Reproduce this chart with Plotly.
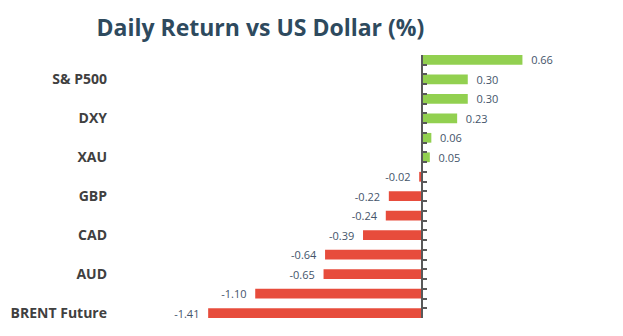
import plotly.graph_objects as go

# ---- data ----
values = [0.66, 0.30, 0.30, 0.23, 0.06, 0.05, -0.02, -0.22, -0.24, -0.39, -0.64, -0.65, -1.10, -1.41]
rows = list(range(len(values)))
tick_labels = ["S& P500", "DXY", "XAU", "GBP", "CAD", "AUD", "BRENT Future"]
tick_rows = [1, 3, 5, 7, 9, 11, 13]

GREEN = "#92D050"
RED = "#E74C3C"
NB = "\u00a0"

colors = [GREEN if v >= 0 else RED for v in values]
templates = [(NB * 2 + "%{x:.2f}") if v >= 0 else ("%{x:.2f}" + NB * 2) for v in values]

x_range = [-2.05, 1.25]
y_range = [len(values) - 0.75, -0.25]
half = 0.25
axis_ticks = sorted([r - half for r in rows] + [r + half for r in rows])

fig = go.Figure()
fig.add_trace(go.Bar(
    x=values, y=rows, orientation="h", width=0.5,
    marker=dict(color=colors, line=dict(width=0)),
    texttemplate=templates, textposition="outside", constraintext="none",
    textfont=dict(family="Open Sans", size=11, color="#44546A"),
    cliponaxis=False, hoverinfo="skip", showlegend=False,
))
fig.add_trace(go.Scatter(
    x=[0], y=[0], yaxis="y2", mode="markers", marker=dict(opacity=0),
    hoverinfo="skip", showlegend=False,
))

zero_pos = (0 - x_range[0]) / (x_range[1] - x_range[0])

fig.update_layout(
    width=623, height=336,
    margin=dict(l=111, r=11, t=55, b=18),
    paper_bgcolor="white", plot_bgcolor="white",
    title=dict(
        text="Daily Return vs US Dollar (%)",
        font=dict(family="Open Sans", size=23, color="#2E4A5E", weight="bold"),
        xref="container", x=0.418, xanchor="center",
        yref="container", y=0.917, yanchor="middle",
    ),
    xaxis=dict(range=x_range, visible=False, showgrid=False, zeroline=False),
    yaxis=dict(
        range=y_range, tickmode="array", tickvals=tick_rows, ticktext=tick_labels,
        showgrid=False, zeroline=False, showline=False, ticks="",
        tickfont=dict(family="Open Sans", size=14, color="#404040", weight="bold"),
        ticklabelstandoff=3,
    ),
    yaxis2=dict(
        range=y_range, overlaying="y", anchor="free", position=zero_pos, side="left",
        showline=True, linecolor="#595959", linewidth=2,
        ticks="inside", ticklen=4, tickwidth=1.5, tickcolor="#595959",
        tickmode="array", tickvals=axis_ticks, showticklabels=False,
        showgrid=False, zeroline=False,
    ),
)

fig.write_html("out.html")
